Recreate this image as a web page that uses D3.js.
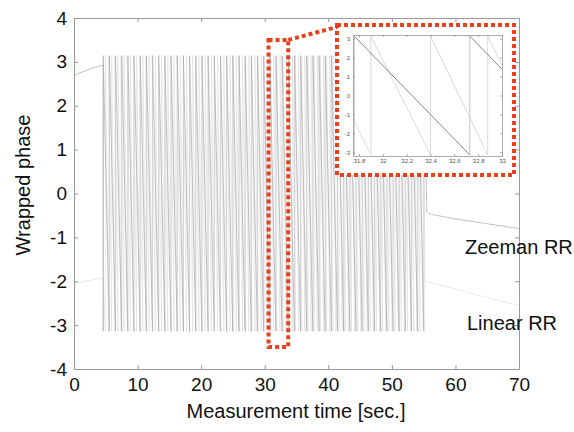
<!DOCTYPE html>
<html>
<head>
<meta charset="utf-8">
<script src="https://cdn.jsdelivr.net/npm/d3@7"></script>
<style>
body { margin: 0; background: #fff; }
svg { font-family: "Liberation Sans", Arial, sans-serif; }
</style>
</head>
<body>
<svg></svg>
<script>
// times (sec) where the wrapped phase jumps from -pi back to +pi
var zeemanJumps = [4.60, 5.57, 6.54, 7.51, 8.48, 9.45, 10.42, 11.39, 12.36, 13.33, 14.30, 15.27,
	16.24, 17.21, 18.18, 19.15, 20.12, 21.09, 22.06, 23.03, 24.00, 24.97, 25.94, 26.91, 27.88,
	28.85, 29.82, 30.79, 31.76, 32.73, 33.70, 34.67, 35.64, 36.61, 37.58, 38.55, 39.52, 40.49,
	41.46, 42.43, 43.40, 44.37, 45.34, 46.31, 47.28, 48.25, 49.22, 50.19, 51.16, 52.13, 53.10,
	54.07, 55.04];
var linearJumps = [4.95, 5.44, 5.93, 6.42, 6.91, 7.40, 7.89, 8.38, 8.87, 9.36, 9.85, 10.34,
	10.83, 11.32, 11.81, 12.30, 12.79, 13.28, 13.77, 14.26, 14.75, 15.24, 15.73, 16.22, 16.71,
	17.20, 17.69, 18.18, 18.67, 19.16, 19.65, 20.14, 20.63, 21.12, 21.61, 22.10, 22.59, 23.08,
	23.57, 24.06, 24.55, 25.04, 25.53, 26.02, 26.51, 27.00, 27.49, 27.98, 28.47, 28.96, 29.45,
	29.94, 30.43, 30.92, 31.41, 31.90, 32.40, 32.88, 33.37, 33.86, 34.35, 34.84, 35.33, 35.82,
	36.31, 36.80, 37.29, 37.78, 38.27, 38.76, 39.25, 39.74, 40.23, 40.72, 41.21, 41.70, 42.19,
	42.68, 43.17, 43.66, 44.15, 44.64, 45.13, 45.62, 46.11, 46.60, 47.09, 47.58, 48.07, 48.56,
	49.05, 49.54, 50.03, 50.52, 51.01, 51.50, 51.99, 52.48, 52.97, 53.46, 53.95, 54.44, 54.93];

// phase before and after the rotation
var zeemanBefore = [[0, 2.70], [1.5, 2.78], [3, 2.86], [4.6, 2.93]];
var zeemanAfter = [[55.5, -0.42], [56, -0.47], [60, -0.58], [65, -0.69], [70, -0.80]];
var linearBefore = [[0, -2.05], [2.5, -1.98], [4.6, -1.92]];
var linearAfter = [[55.2, -2.0], [60, -2.18], [65, -2.37], [70, -2.55]];

var xTicks = [0, 10, 20, 30, 40, 50, 60, 70];
var yTicks = [-4, -3, -2, -1, 0, 1, 2, 3, 4];
var insetXTicks = [31.8, 32, 32.2, 32.4, 32.6, 32.8, 33];
var insetYTicks = [-3, -2, -1, 0, 1, 2, 3];

var zoomBox = {t0: 30.6, t1: 33.7, v0: -3.5, v1: 3.5};

var PI = Math.PI;

var svgWidth = 574;
var svgHeight = 432;

var svg = d3.select('svg')
	.attr("width", svgWidth)
	.attr("height", svgHeight);

var xScale = d3.scaleLinear().domain([0, 70]).range([74, 519]);
var yScale = d3.scaleLinear().domain([-4, 4]).range([369, 18]);

var plain = function(d) { return String(d); };

// build slanted pieces (NaN = break) for one series
function slantPoints(before, jumps, after) {
	var pts = before.slice();
	pts.push([jumps[0], -PI]);
	for (var i = 0; i < jumps.length; i++) {
		pts.push([jumps[i], NaN]);
		pts.push([jumps[i], PI]);
		if (i < jumps.length - 1) {
			pts.push([jumps[i + 1], -PI]);
		}
	}
	return pts.concat(after);
}

function drawSeries(g, xs, ys, before, jumps, after, color, width, jumpColor) {
	g.selectAll(null)
		.data(jumps)
		.enter()
		.append("line")
		.attr("x1", function(d) { return xs(d); })
		.attr("x2", function(d) { return xs(d); })
		.attr("y1", ys(-PI))
		.attr("y2", ys(PI))
		.attr("stroke", jumpColor)
		.attr("stroke-width", width);

	var line = d3.line()
		.defined(function(d) { return !isNaN(d[1]); })
		.x(function(d) { return xs(d[0]); })
		.y(function(d) { return ys(d[1]); });

	g.append("path")
		.datum(slantPoints(before, jumps, after))
		.attr("d", line)
		.attr("fill", "none")
		.attr("stroke", color)
		.attr("stroke-width", width);
}

var plot = svg.append("g");
drawSeries(plot, xScale, yScale, linearBefore, linearJumps, linearAfter, "#dadada", 0.6, "#e4e4e4");
drawSeries(plot, xScale, yScale, zeemanBefore, zeemanJumps, zeemanAfter, "#a6a6a6", 0.7, "#c6c6c6");

// main axes (box with inward ticks)
function styleAxis(g, size) {
	g.selectAll(".domain").attr("stroke", "#999");
	g.selectAll(".tick line").attr("stroke", "#999");
	g.selectAll("text").attr("fill", "#111").style("font-size", size);
}

svg.append("g")
	.attr("transform", "translate(0," + 369 + ")")
	.call(d3.axisBottom(xScale).tickValues(xTicks).tickFormat(plain).tickSize(-4).tickPadding(9).tickSizeOuter(0))
	.call(styleAxis, "19px");
svg.append("g")
	.attr("transform", "translate(0," + 18 + ")")
	.call(d3.axisTop(xScale).tickValues(xTicks).tickSize(-4).tickFormat("").tickSizeOuter(0))
	.call(styleAxis, "19px");
svg.append("g")
	.attr("transform", "translate(" + 74 + ",0)")
	.call(d3.axisLeft(yScale).tickValues(yTicks).tickFormat(plain).tickSize(-4).tickPadding(7).tickSizeOuter(0))
	.call(styleAxis, "19px");
svg.append("g")
	.attr("transform", "translate(" + 519 + ",0)")
	.call(d3.axisRight(yScale).tickValues(yTicks).tickSize(-4).tickFormat("").tickSizeOuter(0))
	.call(styleAxis, "19px");

// axis titles
svg.append("text")
	.text("Measurement time [sec.]")
	.attr("x", 296)
	.attr("y", 418)
	.attr("text-anchor", "middle")
	.attr("font-size", "20px")
	.attr("fill", "#111");
svg.append("text")
	.text("Wrapped phase")
	.attr("transform", "translate(30,185) rotate(-90)")
	.attr("text-anchor", "middle")
	.attr("font-size", "20px")
	.attr("fill", "#111");

// series labels
svg.append("text").text("Zeeman RR")
	.attr("x", 465).attr("y", 254)
	.attr("font-size", "20px").attr("fill", "#111");
svg.append("text").text("Linear RR")
	.attr("x", 467).attr("y", 330)
	.attr("font-size", "20px").attr("fill", "#111");

// inset (zoom of 31.75 - 33 s)
var ix = d3.scaleLinear().domain([31.75, 33]).range([353, 502]);
var iy = d3.scaleLinear().domain([-3.2, 3.2]).range([156, 35]);

svg.append("rect")
	.attr("x", 337).attr("y", 25)
	.attr("width", 177).attr("height", 150)
	.attr("fill", "#fff");

svg.append("clipPath").attr("id", "insetClip")
	.append("rect")
	.attr("x", 353).attr("y", 35)
	.attr("width", 149).attr("height", 121);

var inset = svg.append("g").attr("clip-path", "url(#insetClip)");
drawSeries(inset, ix, iy, linearBefore, linearJumps, linearAfter, "#cfcfcf", 0.8, "#cfcfcf");
drawSeries(inset, ix, iy, zeemanBefore, zeemanJumps, zeemanAfter, "#777", 0.9, "#bdbdbd");

function styleInsetAxis(g) {
	g.selectAll(".domain").attr("stroke", "#888").attr("stroke-width", 0.7);
	g.selectAll(".tick line").attr("stroke", "#888").attr("stroke-width", 0.7);
	g.selectAll("text").attr("fill", "#555").style("font-size", "6px");
}

svg.append("g")
	.attr("transform", "translate(0,156)")
	.call(d3.axisBottom(ix).tickValues(insetXTicks).tickFormat(plain).tickSize(-2).tickPadding(3).tickSizeOuter(0))
	.call(styleInsetAxis);
svg.append("g")
	.attr("transform", "translate(0,35)")
	.call(d3.axisTop(ix).tickValues(insetXTicks).tickSize(-2).tickFormat("").tickSizeOuter(0))
	.call(styleInsetAxis);
svg.append("g")
	.attr("transform", "translate(353,0)")
	.call(d3.axisLeft(iy).tickValues(insetYTicks).tickFormat(plain).tickSize(-2).tickPadding(3).tickSizeOuter(0))
	.call(styleInsetAxis);
svg.append("g")
	.attr("transform", "translate(502,0)")
	.call(d3.axisRight(iy).tickValues(insetYTicks).tickSize(-2).tickFormat("").tickSizeOuter(0))
	.call(styleInsetAxis);

// red dotted marks
var red = "#e8401c";
svg.append("rect")
	.attr("x", 337).attr("y", 25)
	.attr("width", 177).attr("height", 150)
	.attr("fill", "none")
	.attr("stroke", red)
	.attr("stroke-width", 4)
	.attr("stroke-dasharray", "4,3");
svg.append("rect")
	.attr("x", xScale(zoomBox.t0))
	.attr("y", yScale(zoomBox.v1))
	.attr("width", xScale(zoomBox.t1) - xScale(zoomBox.t0))
	.attr("height", yScale(zoomBox.v0) - yScale(zoomBox.v1))
	.attr("fill", "none")
	.attr("stroke", red)
	.attr("stroke-width", 4)
	.attr("stroke-dasharray", "4,3");
svg.append("line")
	.attr("x1", xScale(zoomBox.t1)).attr("y1", yScale(zoomBox.v1))
	.attr("x2", 337).attr("y2", 27)
	.attr("stroke", red)
	.attr("stroke-width", 4)
	.attr("stroke-dasharray", "4,3");
</script>
</body>
</html>
